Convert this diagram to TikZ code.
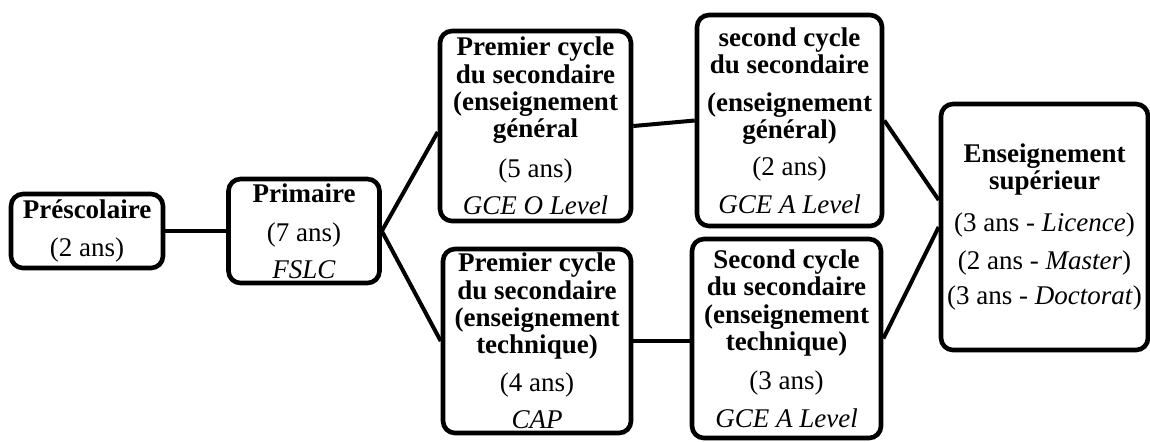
\documentclass[tikz,border=0pt]{standalone}
\usepackage{fontspec}
\setmainfont{Liberation Serif}
\usetikzlibrary{positioning}

\begin{document}
\begin{tikzpicture}[x=0.5pt, y=-0.5pt,
    stage/.style={draw, line width=2.3pt, rounded corners=6pt, align=center,
      font=\fontsize{13.5}{13.7}\selectfont, inner sep=1pt},
    link/.style={line width=2pt}]
      \useasboundingbox (0,0) rectangle (1150,441);

      \node[stage, minimum width=76pt, minimum height=37pt] (pre) at (87,231)
        {\textbf{Préscolaire}\\[5pt](2 ans)};
      \node[stage, minimum width=75.5pt, minimum height=52pt] (prim) at (304,231)
        {\textbf{Primaire}\\[6pt](7 ans)\\[4.5pt]\textit{FSLC}};

      \node[stage, minimum width=95.5pt, minimum height=95pt] (cyc1_gen) at (535.5,126)
        {\textbf{Premier cycle}\\\textbf{du secondaire}\\\textbf{(enseignement}\\\textbf{général}\\[6pt](5 ans)\\[5pt]\textit{GCE O Level}};
      \node[stage, minimum width=94pt, minimum height=92pt] (cyc1_tec) at (537,341)
        {\textbf{Premier cycle}\\\textbf{du secondaire}\\\textbf{(enseignement}\\\textbf{technique)}\\[5pt](4 ans)\\[5pt]\textit{CAP}};

      \node[stage, minimum width=92.5pt, minimum height=105.5pt] (cyc2_gen) at (789.5,120.5)
        {\textbf{second cycle}\\\textbf{du secondaire}\\[5pt]\textbf{(enseignement}\\\textbf{général)}\\[5pt](2 ans)\\[5pt]\textit{GCE A Level}};
      \node[stage, minimum width=94.5pt, minimum height=99.5pt] (cyc2_tec) at (786.5,338.5)
        {\textbf{Second cycle}\\\textbf{du secondaire}\\\textbf{(enseignement}\\\textbf{technique)}\\[6pt](3 ans)\\[5pt]\textit{GCE A Level}};

      \node[stage, minimum width=103.5pt, minimum height=123pt] (sup) at (1044.5,227)
        {\textbf{Enseignement}\\\textbf{supérieur}\\[7pt](3 ans - \textit{Licence})\\[5.5pt](2 ans - \textit{Master})\\[4pt](3 ans - \textit{Doctorat})};

      \draw[link] (pre.east) -- (prim.west);
      \draw[link] (prim.east) -- ([yshift=-3pt]cyc1_gen.west);
      \draw[link] (prim.east) -- (cyc1_tec.west);
      \draw[link] (cyc1_gen.east) -- (cyc2_gen.west);
      \draw[link] (cyc1_tec.east) -- (cyc1_tec.east -| cyc2_tec.west);
      \draw[link] (cyc2_gen.east) -- ([yshift=13.5pt]sup.west);
      \draw[link] (cyc2_tec.east) -- (sup.west);
    \end{tikzpicture}
\end{document}
